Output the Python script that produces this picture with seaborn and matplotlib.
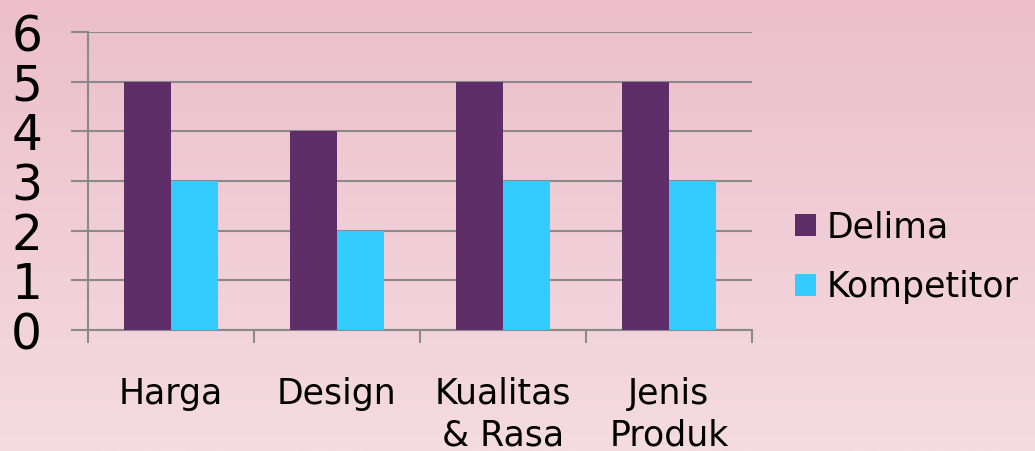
import numpy as np
import pandas as pd
import matplotlib
matplotlib.use("Agg")
import matplotlib.pyplot as plt
import seaborn as sns
from matplotlib.ticker import FixedLocator

# Data
categories = ["Harga", "Design", "Kualitas\n& Rasa", "Jenis\nProduk"]
delima = [5, 4, 5, 5]
kompetitor = [3, 2, 3, 3]
series_names = ["Delima", "Kompetitor"]
colors = ["#5f2d68", "#33ccff"]

df = pd.DataFrame({
    "kategori": categories * 2,
    "nilai": delima + kompetitor,
    "seri": [series_names[0]] * len(categories) + [series_names[1]] * len(categories),
})

sns.set_style("white")
plt.rcParams["font.family"] = ["DejaVu Sans"]
plt.rcParams["text.color"] = "black"
plt.rcParams["xtick.color"] = "black"
plt.rcParams["ytick.color"] = "black"

fig = plt.figure(figsize=(10.35, 4.51), dpi=100)

# pink gradient background
bg = fig.add_axes([0, 0, 1, 1], zorder=-10)
grad = np.linspace(0, 1, 256).reshape(-1, 1)
cmap = matplotlib.colors.LinearSegmentedColormap.from_list("bg", ["#ecbfca", "#f5dbe2"])
bg.imshow(grad, aspect="auto", cmap=cmap, extent=[0, 1, 0, 1], origin="upper")
bg.axis("off")

ax = fig.add_axes([0.085, 0.268, 0.6415, 0.661])
ax.set_facecolor("none")

sns.barplot(data=df, x="kategori", y="nilai", hue="seri", palette=colors,
            width=0.57, saturation=1, ax=ax, edgecolor="none", zorder=3)

grid_c = "#8a8a8a"
ax.set_ylim(0, 6)
ax.set_xlim(-0.5, len(categories) - 0.5)
ax.set_yticks(range(0, 7))
ax.yaxis.grid(True, color=grid_c, linewidth=1.5, zorder=0)
ax.set_axisbelow(True)

for s in ["top", "right"]:
    ax.spines[s].set_visible(False)
for s in ["left", "bottom"]:
    ax.spines[s].set_color(grid_c)
    ax.spines[s].set_linewidth(1.5)

ax.tick_params(axis="y", left=True, direction="out", length=12, width=1.5, color=grid_c,
               labelsize=35, pad=21, labelcolor="black")
ax.xaxis.set_minor_locator(FixedLocator(np.arange(-0.5, len(categories), 1.0)))
ax.tick_params(axis="x", which="major", bottom=False, labelbottom=True,
               labelsize=25, pad=30, labelcolor="black")
ax.tick_params(axis="x", which="minor", bottom=True, direction="out", length=9,
               width=1.5, color=grid_c)
for lbl in ax.get_xticklabels():
    lbl.set_verticalalignment("top")
    lbl.set_linespacing(1.3)

ax.set_xlabel("")
ax.set_ylabel("")

ax.legend(title=None, loc="center left", bbox_to_anchor=(1.065, 0.245), frameon=False,
          fontsize=25, handlelength=0.6, handleheight=0.6, handletextpad=0.3,
          labelspacing=0.75, borderaxespad=0, borderpad=0)

fig.savefig("out.png", dpi=100)
